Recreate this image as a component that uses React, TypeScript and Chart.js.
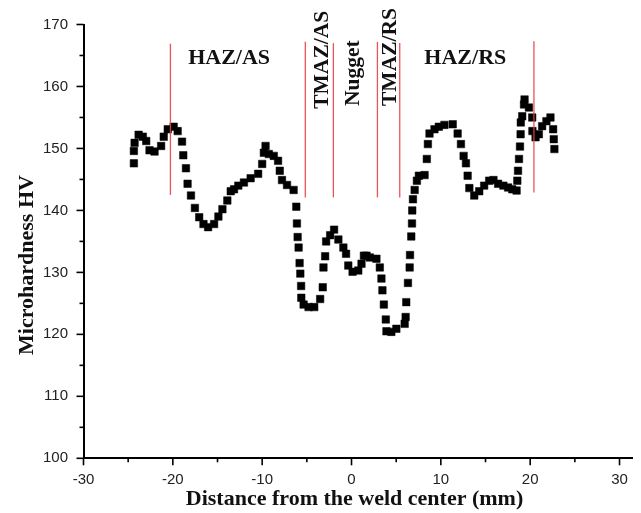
import React, { useEffect, useRef } from 'react';
import { Chart, registerables } from 'chart.js';

Chart.register(...registerables);

// Distance from the weld center (mm)
const DISTANCE_MM = [
  -24.36, -24.36, -24.28, -23.83, -23.36, -22.98, -22.61, -22.05, -21.31, -21.02,
  -20.57, -19.91, -19.46, -18.97, -18.83, -18.53, -18.35, -17.97, -17.53, -17.05,
  -16.57, -16.05, -15.38, -14.9, -14.45, -13.9, -13.52, -13.15, -12.67, -12.04,
  -11.29, -10.45, -10.0, -9.81, -9.62, -9.26, -8.7, -8.22, -8.03, -7.78,
  -7.22, -6.48, -6.18, -6.11, -6.03, -5.92, -5.81, -5.73, -5.64, -5.62,
  -5.36, -4.81, -4.17, -3.51, -3.22, -3.14, -2.95, -2.84, -2.39, -1.95,
  -1.47, -0.91, -0.61, -0.36, 0.12, 0.76, 1.12, 1.39, 1.68, 2.06,
  2.79, 3.17, 3.35, 3.46, 3.62, 3.84, 3.91, 4.46, 5.02, 5.95,
  6.06, 6.13, 6.32, 6.51, 6.55, 6.69, 6.77, 6.8, 6.88, 7.07,
  7.32, 7.54, 8.18, 8.43, 8.55, 8.73, 9.29, 9.77, 10.4, 11.33,
  11.88, 12.25, 12.55, 12.81, 13.0, 13.19, 13.74, 14.3, 14.85, 15.41,
  15.89, 16.41, 17.0, 17.53, 18.0, 18.48, 18.56, 18.64, 18.75, 18.86,
  18.93, 18.95, 19.11, 19.31, 19.37, 19.86, 20.23, 20.25, 20.6, 20.97,
  21.34, 21.82, 22.27, 22.57, 22.64, 22.71,
];

// Microhardness HV
const HARDNESS_HV = [
  147.6, 149.6, 150.9, 152.2, 151.9, 151.2, 149.7, 149.5, 150.4, 151.9,
  153.1, 153.5, 152.8, 151.1, 148.9, 146.8, 144.3, 142.4, 140.4, 138.9,
  137.8, 137.3, 137.8, 139.0, 140.2, 141.6, 143.1, 143.4, 144.0, 144.5,
  145.2, 145.9, 147.5, 149.3, 150.4, 149.1, 148.8, 148.0, 146.4, 144.9,
  144.1, 143.3, 140.6, 137.9, 135.7, 134.0, 131.5, 129.8, 127.8, 125.9,
  124.8, 124.4, 124.4, 125.7, 127.6, 130.8, 132.6, 135.0, 136.0, 136.9,
  135.3, 134.0, 133.0, 131.1, 130.1, 130.3, 131.4, 132.7, 132.7, 132.4,
  132.2, 130.8, 129.0, 127.1, 124.8, 122.4, 120.5, 120.4, 120.9, 121.7,
  122.8, 125.2, 128.3, 130.8, 132.8, 135.8, 137.9, 140.0, 141.8, 143.3,
  144.8, 145.6, 145.7, 148.3, 150.7, 152.4, 153.1, 153.5, 153.8, 153.9,
  152.4, 150.7, 148.8, 147.6, 145.6, 143.6, 142.4, 143.1, 144.0, 144.8,
  144.9, 144.3, 144.0, 143.7, 143.4, 143.2, 144.8, 146.4, 148.3, 150.3,
  152.3, 154.2, 155.2, 157.1, 157.9, 156.6, 155.0, 152.8, 151.8, 152.3,
  153.6, 154.4, 155.0, 153.1, 151.5, 149.9,
];

const X_TICKS = [-30, -20, -10, 0, 10, 20, 30];
const X_MINOR_TICKS = [-25, -15, -5, 5, 15, 25];
const Y_TICKS = [100, 110, 120, 130, 140, 150, 160, 170];
const Y_MINOR_TICKS = [105, 115, 125, 135, 145, 155, 165];

// zone boundaries (mm) and vertical extent (HV) of the red separators
const ZONE_BOUNDARIES_MM = [-20.27, -5.17, -2.03, 2.9, 5.4, 20.42];
const ZONE_LINE_TOP_HV = [166.9, 167.2, 167.0, 167.2, 167.0, 167.3];
const ZONE_LINE_BOTTOM_HV = [142.5, 142.1, 142.1, 142.1, 142.1, 142.9];

// zone labels: text, x (mm), y (HV), rotated
const ZONE_LABEL_TEXT = ['HAZ/AS', 'TMAZ/AS', 'Nugget', 'TMAZ/RS', 'HAZ/RS'];
const ZONE_LABEL_X = [-13.7, -2.58, 0.87, 4.98, 12.74];
const ZONE_LABEL_Y = [163.7, 156.4, 156.85, 156.85, 163.7];
const ZONE_LABEL_ROTATED = [false, true, true, true, false];

const X_TITLE = 'Distance from the weld center (mm)';
const Y_TITLE = 'Microhardness HV';

const SERIF = '"Liberation Serif", "Times New Roman", serif';
const SANS = '"Liberation Sans", Arial, sans-serif';

const decorPlugin = {
  id: 'decor',
  afterDatasetsDraw(chart: any) {
    const { ctx, scales } = chart;
    const x = scales.x;
    const y = scales.y;
    ctx.save();
    // red zone separators
    ctx.strokeStyle = 'rgba(232, 64, 72, 0.9)';
    ctx.lineWidth = 1.3;
    ZONE_BOUNDARIES_MM.forEach((b, i) => {
      const px = x.getPixelForValue(b);
      ctx.beginPath();
      ctx.moveTo(px, y.getPixelForValue(ZONE_LINE_TOP_HV[i]));
      ctx.lineTo(px, y.getPixelForValue(ZONE_LINE_BOTTOM_HV[i]));
      ctx.stroke();
    });
    // zone labels
    ctx.fillStyle = '#111';
    ZONE_LABEL_TEXT.forEach((t, i) => {
      const px = x.getPixelForValue(ZONE_LABEL_X[i]);
      const py = y.getPixelForValue(ZONE_LABEL_Y[i]);
      ctx.save();
      ctx.translate(px, py);
      ctx.textBaseline = 'alphabetic';
      if (ZONE_LABEL_ROTATED[i]) {
        ctx.font = `bold 21.5px ${SERIF}`;
        ctx.rotate(-Math.PI / 2);
        ctx.textAlign = 'left';
      } else {
        ctx.font = `bold 22px ${SERIF}`;
        ctx.textAlign = 'center';
      }
      ctx.fillText(t, 0, 0);
      ctx.restore();
    });
    ctx.restore();
  },
  afterDraw(chart: any) {
    const { ctx, scales, chartArea } = chart;
    const x = scales.x;
    const y = scales.y;
    ctx.save();
    ctx.strokeStyle = '#000';
    ctx.lineWidth = 1.6;
    const bottom = chartArea.bottom;
    const left = chartArea.left;
    const tick = (vals: number[], len: number, horizontal: boolean) => {
      vals.forEach((v) => {
        ctx.beginPath();
        if (horizontal) {
          const px = x.getPixelForValue(v);
          ctx.moveTo(px, bottom);
          ctx.lineTo(px, bottom + len);
        } else {
          const py = y.getPixelForValue(v);
          ctx.moveTo(left, py);
          ctx.lineTo(left - len, py);
        }
        ctx.stroke();
      });
    };
    tick(X_TICKS, 7, true);
    tick(X_MINOR_TICKS, 4, true);
    tick(Y_TICKS, 7, false);
    tick(Y_MINOR_TICKS, 4, false);

    // axis titles
    ctx.fillStyle = '#111';
    ctx.font = `bold 22px ${SERIF}`;
    ctx.textAlign = 'center';
    ctx.textBaseline = 'alphabetic';
    ctx.fillText(X_TITLE, 354.5, 505);
    ctx.save();
    ctx.translate(33, 265);
    ctx.rotate(-Math.PI / 2);
    ctx.fillText(Y_TITLE, 0, 0);
    ctx.restore();
    ctx.restore();
  },
};

export default function App() {
  const ref = useRef<HTMLCanvasElement | null>(null);
  useEffect(() => {
    if (!ref.current) return;
    const points = DISTANCE_MM.map((d, i) => ({ x: d, y: HARDNESS_HV[i] }));
    const chart = new Chart(ref.current, {
      type: 'scatter',
      data: {
        datasets: [
          {
            data: points,
            pointStyle: 'rect',
            pointRadius: 5.3,
            pointBackgroundColor: '#000',
            pointBorderColor: '#000',
            pointBorderWidth: 0.5,
            showLine: false,
          },
        ],
      },
      options: {
        responsive: false,
        animation: false,
        events: [],
        layout: { padding: { left: 0, right: 4.7, top: 23.3, bottom: 0 } },
        plugins: { legend: { display: false }, tooltip: { enabled: false } },
        scales: {
          x: {
            type: 'linear',
            min: -30,
            max: 31.5,
            afterBuildTicks: (s: any) => {
              s.ticks = X_TICKS.map((v) => ({ value: v }));
            },
            afterFit: (s: any) => {
              s.height = 54.7;
            },
            ticks: {
              autoSkip: false,
              maxRotation: 0,
              padding: 13,
              color: '#222',
              font: { family: SANS, size: 15 },
            },
            grid: { display: true, drawOnChartArea: false, drawTicks: false },
            border: { display: true, color: '#000', width: 2 },
          },
          y: {
            type: 'linear',
            min: 100,
            max: 170,
            afterBuildTicks: (s: any) => {
              s.ticks = Y_TICKS.map((v) => ({ value: v }));
            },
            afterFit: (s: any) => {
              s.width = 83.5;
            },
            ticks: {
              padding: 15.5,
              color: '#222',
              font: { family: SANS, size: 15 },
            },
            grid: { display: true, drawOnChartArea: false, drawTicks: false },
            border: { display: true, color: '#000', width: 2 },
          },
        },
      },
      plugins: [decorPlugin],
    } as any);
    return () => chart.destroy();
  }, []);

  return (
    <div style={{ position: 'fixed', left: 0, top: 0, width: 641, height: 513, background: '#fff' }}>
      <canvas ref={ref} width={641} height={513} style={{ display: 'block', width: 641, height: 513 }} />
    </div>
  );
}
